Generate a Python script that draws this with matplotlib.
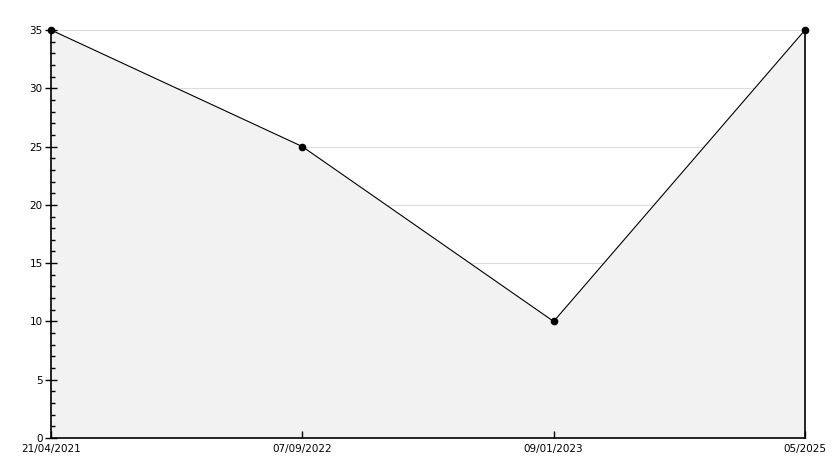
import matplotlib
matplotlib.use('Agg')
import matplotlib.pyplot as plt
from matplotlib.ticker import MultipleLocator

# data
dates = ['21/04/2021', '07/09/2022', '09/01/2023', '05/2025']
values = [35, 25, 10, 35]

plt.rcParams['font.family'] = ['DejaVu Sans']
fig = plt.figure(figsize=(8.34, 4.68), dpi=100)
ax = fig.add_axes([51/834, 1-438/468, (805-51)/834, (438-30)/468])

x = list(range(len(dates)))
# grid drawn by hand so the fill covers it but not the ticks
for yv in range(5, 40, 5):
    ax.axhline(yv, color='#dddddd', linewidth=0.8, zorder=1)
ax.fill_between(x, values, 0, color='#f2f2f2', zorder=2, linewidth=0)
ax.plot(x, values, color='black', linewidth=0.8, marker='o', markersize=4.5,
        zorder=6, clip_on=False)
# right edge of the filled area
ax.plot([x[-1], x[-1]], [0, values[-1]], color='black', linewidth=1.2, zorder=4, clip_on=False)

ax.set_xlim(0, len(dates) - 1)
ax.set_ylim(0, 35)
ax.set_xticks(x)
ax.set_xticklabels(dates)
ax.yaxis.set_major_locator(MultipleLocator(5))
ax.yaxis.set_minor_locator(MultipleLocator(1))
ax.set_axisbelow(False)

for s in ['top', 'right']:
    ax.spines[s].set_visible(False)
ax.spines['left'].set_linewidth(1.2)
ax.spines['bottom'].set_linewidth(1.2)

ax.tick_params(axis='y', which='major', direction='inout', length=8, width=1, labelsize=7.5, pad=2)
ax.tick_params(axis='y', which='minor', direction='in', length=3, width=1)
ax.tick_params(axis='x', direction='in', length=5, width=1, labelsize=7.5, pad=4)

fig.savefig('out.png', dpi=100)
